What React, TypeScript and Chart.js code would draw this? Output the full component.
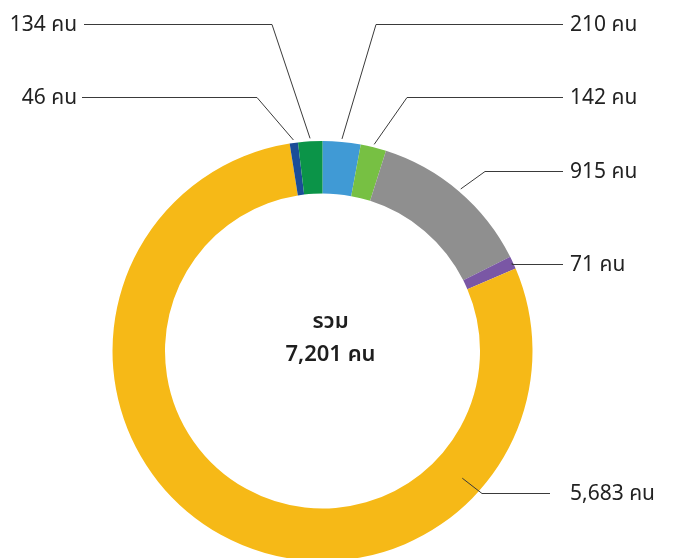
import React, { useEffect, useRef } from "react";
import { Chart, registerables } from "chart.js";

Chart.register(...registerables);

// Data (clockwise from 12 o'clock)
const values = [210, 142, 915, 71, 5683, 46, 134];
const valueLabels = ["210 คน", "142 คน", "915 คน", "71 คน", "5,683 คน", "46 คน", "134 คน"];
const colors = ["#409AD5", "#77C043", "#8F8F8F", "#7A57A5", "#F6B917", "#1B4D98", "#0B9448"];
const centerLines = ["รวม", "7,201 คน"];

// Label layout (annotation placement)
type LabelLayout = {
  side: "left" | "right";
  y: number;
  elbowX: number | null;
  lineEnd: number;
  text: number;
  anchorAngleDeg?: number;
  anchorRadius?: number;
};
const labelLayout: LabelLayout[] = [
  { side: "right", y: 24, elbowX: 376, lineEnd: 563, text: 570 },
  { side: "right", y: 97, elbowX: 407, lineEnd: 563, text: 570 },
  { side: "right", y: 171, elbowX: 485, lineEnd: 563, text: 570 },
  { side: "right", y: 264, elbowX: null, lineEnd: 563, text: 570 },
  { side: "right", y: 493, elbowX: 482, lineEnd: 550, text: 570, anchorAngleDeg: 132.3, anchorRadius: 0.9 },
  { side: "left", y: 97, elbowX: 257, lineEnd: 82, text: 77 },
  { side: "left", y: 24, elbowX: 272, lineEnd: 84, text: 77 },
];

const FONT = '"Noto Sans Thai", "Noto Sans", "DejaVu Sans", sans-serif';

const leaderPlugin = {
  id: "leaders",
  afterDatasetsDraw(chart: any) {
    const ctx = chart.ctx;
    const meta = chart.getDatasetMeta(0);
    ctx.save();
    meta.data.forEach((arc: any, i: number) => {
      const L = labelLayout[i];
      const { x: cx, y: cy, startAngle, endAngle, outerRadius } = arc.getProps(
        ["x", "y", "startAngle", "endAngle", "outerRadius"],
        true
      );
      let ang = (startAngle + endAngle) / 2;
      let r = outerRadius + 3;
      if (L.anchorAngleDeg !== undefined) {
        ang = ((L.anchorAngleDeg - 90) * Math.PI) / 180;
        r = outerRadius * (L.anchorRadius ?? 1);
      }
      if (i === 3) r = outerRadius - 1;
      const ax = cx + Math.cos(ang) * r;
      const ay = cy + Math.sin(ang) * r;
      ctx.strokeStyle = "#3a3a3a";
      ctx.lineWidth = 1;
      ctx.beginPath();
      ctx.moveTo(ax, ay);
      if (L.elbowX !== null) ctx.lineTo(L.elbowX, L.y + 0.5);
      else ctx.lineTo(ax, L.y + 0.5);
      ctx.lineTo(L.lineEnd, L.y + 0.5);
      ctx.stroke();
      ctx.fillStyle = "#222";
      ctx.font = `400 21px ${FONT}`;
      ctx.textBaseline = "middle";
      ctx.textAlign = L.side === "right" ? "left" : "right";
      ctx.fillText(valueLabels[i], L.text, L.y + 3);
    });
    // center text
    const a0 = meta.data[0];
    ctx.fillStyle = "#1e1e1e";
    ctx.font = `600 22px ${FONT}`;
    ctx.textAlign = "center";
    ctx.textBaseline = "middle";
    ctx.fillText(centerLines[0], a0.x + 8, a0.y - 27);
    ctx.fillText(centerLines[1], a0.x + 8, a0.y + 6);
    ctx.restore();
  },
};

export default function App() {
  const ref = useRef<HTMLCanvasElement | null>(null);
  useEffect(() => {
    document.body.style.margin = "0";
    const chart = new Chart(ref.current as HTMLCanvasElement, {
      type: "doughnut",
      data: {
        labels: valueLabels,
        datasets: [
          {
            data: values,
            backgroundColor: colors,
            borderWidth: 0,
          },
        ],
      },
      options: {
        responsive: false,
        animation: false,
        cutout: "75%",
        layout: { padding: { left: 112, right: 142, top: 141, bottom: 14 } },
        plugins: { legend: { display: false }, tooltip: { enabled: false } },
      },
      plugins: [leaderPlugin],
    });
    return () => chart.destroy();
  }, []);
  return (
    <div style={{ width: 675, height: 558, overflow: "hidden", position: "relative", background: "#fff" }}>
      <canvas ref={ref} width={675} height={575} style={{ display: "block" }} />
    </div>
  );
}
